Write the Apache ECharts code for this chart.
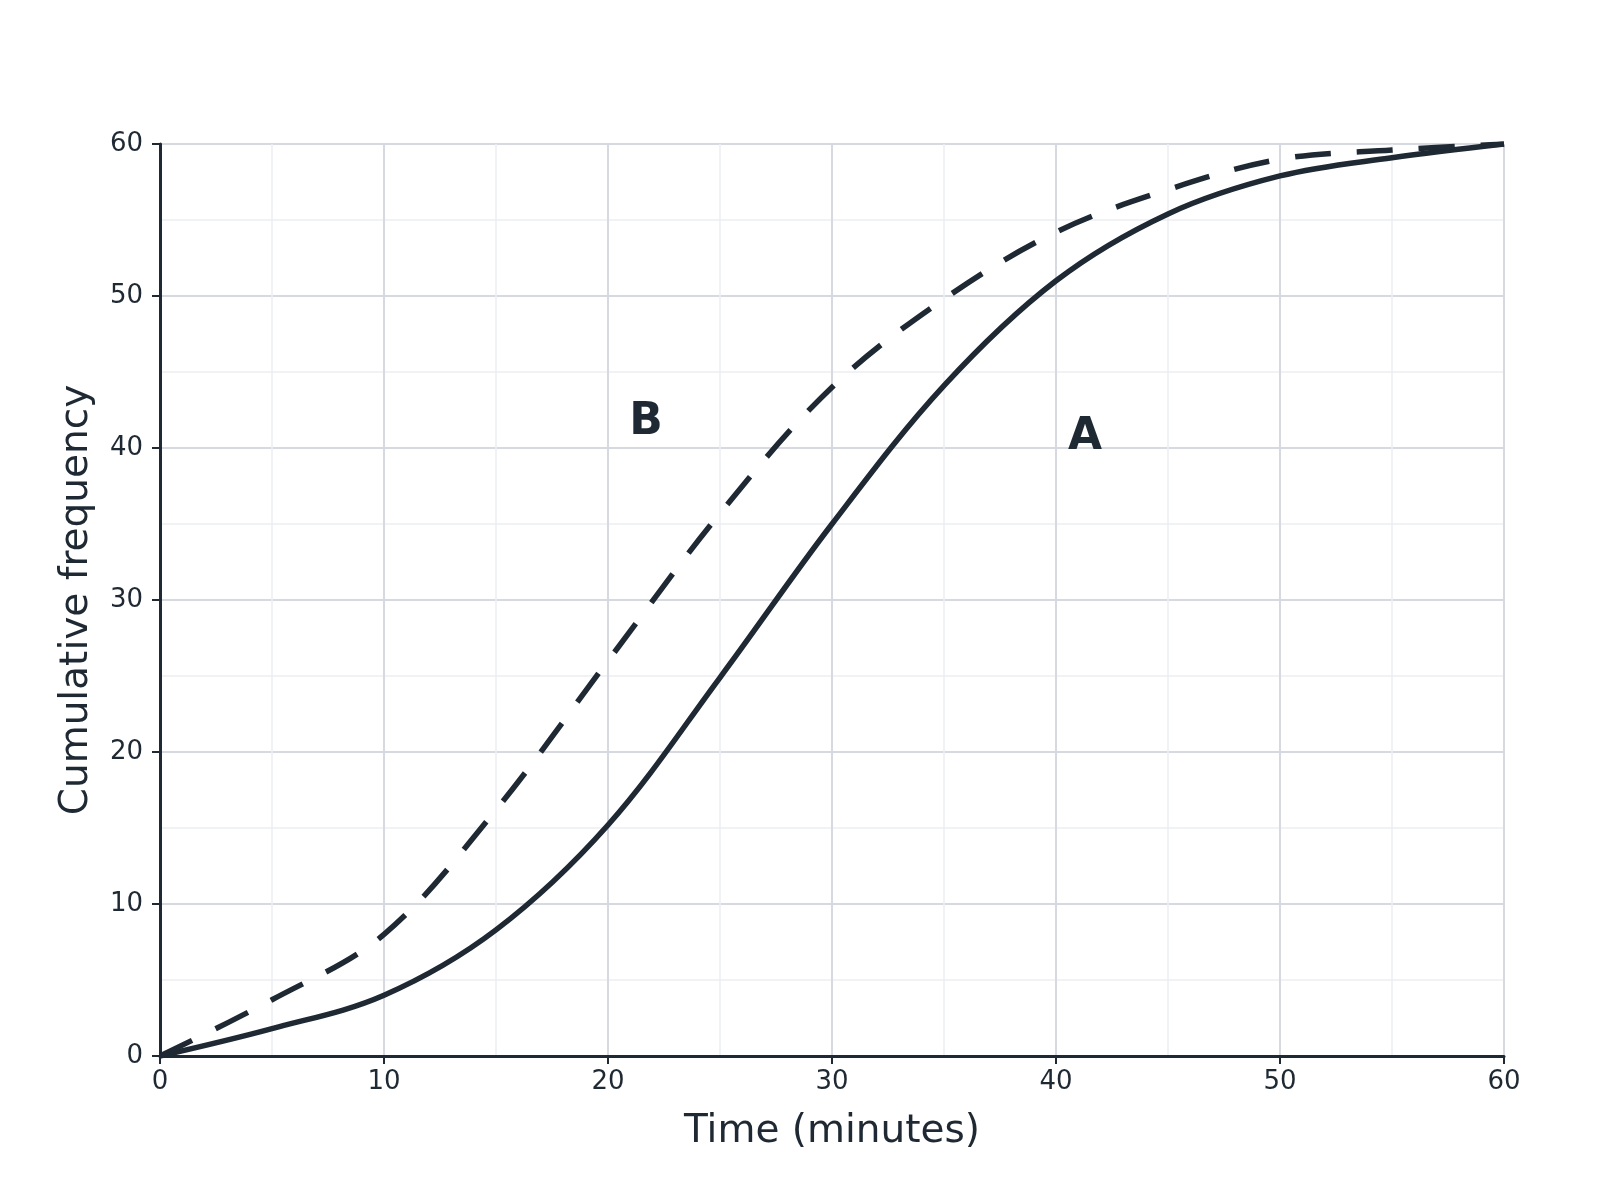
<!DOCTYPE html>
<html>
<head>
<meta charset="utf-8">
<title>Cumulative frequency</title>
<script src="https://cdn.jsdelivr.net/npm/echarts@6/dist/echarts.min.js"></script>
<style>
  html, body { margin: 0; padding: 0; background: #fff; }
  #chart { width: 1600px; height: 1200px; }
</style>
</head>
<body>
<div id="chart"></div>
<script>
// time in minutes, every 5 minutes
var times = [0, 5, 10, 15, 20, 25, 30, 35, 40, 45, 50, 55, 60];
var curveA = [0, 1.8, 4.0, 8.3, 15.2, 24.9, 35, 44.1, 51, 55.4, 57.9, 59.1, 60];
var curveB = [0, 3.7, 8.0, 16.2, 26.0, 35.7, 44.0, 49.8, 54.2, 57.0, 59.0, 59.6, 60];

// curve names written on the plot
var tagNames = ['B', 'A'];
var tagX = [21.7, 41.3];
var tagY = [41.7, 40.7];

var ink = '#1f2933';

function pairs(xs, ys) {
    var out = [];
    for (var i = 0; i < xs.length; i++) out.push([xs[i], ys[i]]);
    return out;
}

var tags = [];
for (var i = 0; i < tagNames.length; i++) {
    tags.push({ name: tagNames[i], value: [tagX[i], tagY[i]] });
}

function axis(name, gap) {
    return {
        type: 'value',
        min: 0,
        max: 60,
        interval: 10,
        name: name,
        nameLocation: 'middle',
        nameGap: gap,
        nameTextStyle: { fontFamily: 'DejaVu Sans', fontSize: 39, color: ink },
        axisLine: { show: true, lineStyle: { color: ink, width: 3 } },
        axisTick: { show: true, length: 8, lineStyle: { color: ink, width: 2 } },
        axisLabel: { fontFamily: 'DejaVu Sans', fontSize: 26, color: ink },
        splitLine: { show: true, lineStyle: { color: '#d6d9e0', width: 2 } },
        minorTick: { show: false, splitNumber: 2 },
        minorSplitLine: { show: true, lineStyle: { color: '#eceef2', width: 1.5 } }
    };
}

var chart = echarts.init(document.getElementById('chart'));

var xAx = axis('Time (minutes)', 56);
xAx.axisLabel.margin = 13;
var yAx = axis('Cumulative frequency', 64);
yAx.axisLabel.margin = 17;

chart.setOption({
    animation: false,
    grid: { left: 160, right: 96, top: 144, bottom: 144 },
    xAxis: xAx,
    yAxis: yAx,
    series: [
        {
            name: 'A',
            type: 'line',
            smooth: 0.35,
            symbol: 'none',
            lineStyle: { color: ink, width: 5.5 },
            data: pairs(times, curveA)
        },
        {
            name: 'B',
            type: 'line',
            smooth: 0.35,
            symbol: 'none',
            lineStyle: { color: ink, width: 5.5, type: [36, 26] },
            data: pairs(times, curveB)
        },
        {
            name: 'tags',
            type: 'scatter',
            symbolSize: 0,
            silent: true,
            itemStyle: { color: ink, opacity: 1 },
            label: {
                show: true,
                position: 'inside',
                formatter: '{b}',
                fontFamily: 'DejaVu Sans',
                fontWeight: 'bold',
                fontSize: 44,
                color: ink,
                opacity: 1
            },
            data: tags
        }
    ]
});
</script>
</body>
</html>
